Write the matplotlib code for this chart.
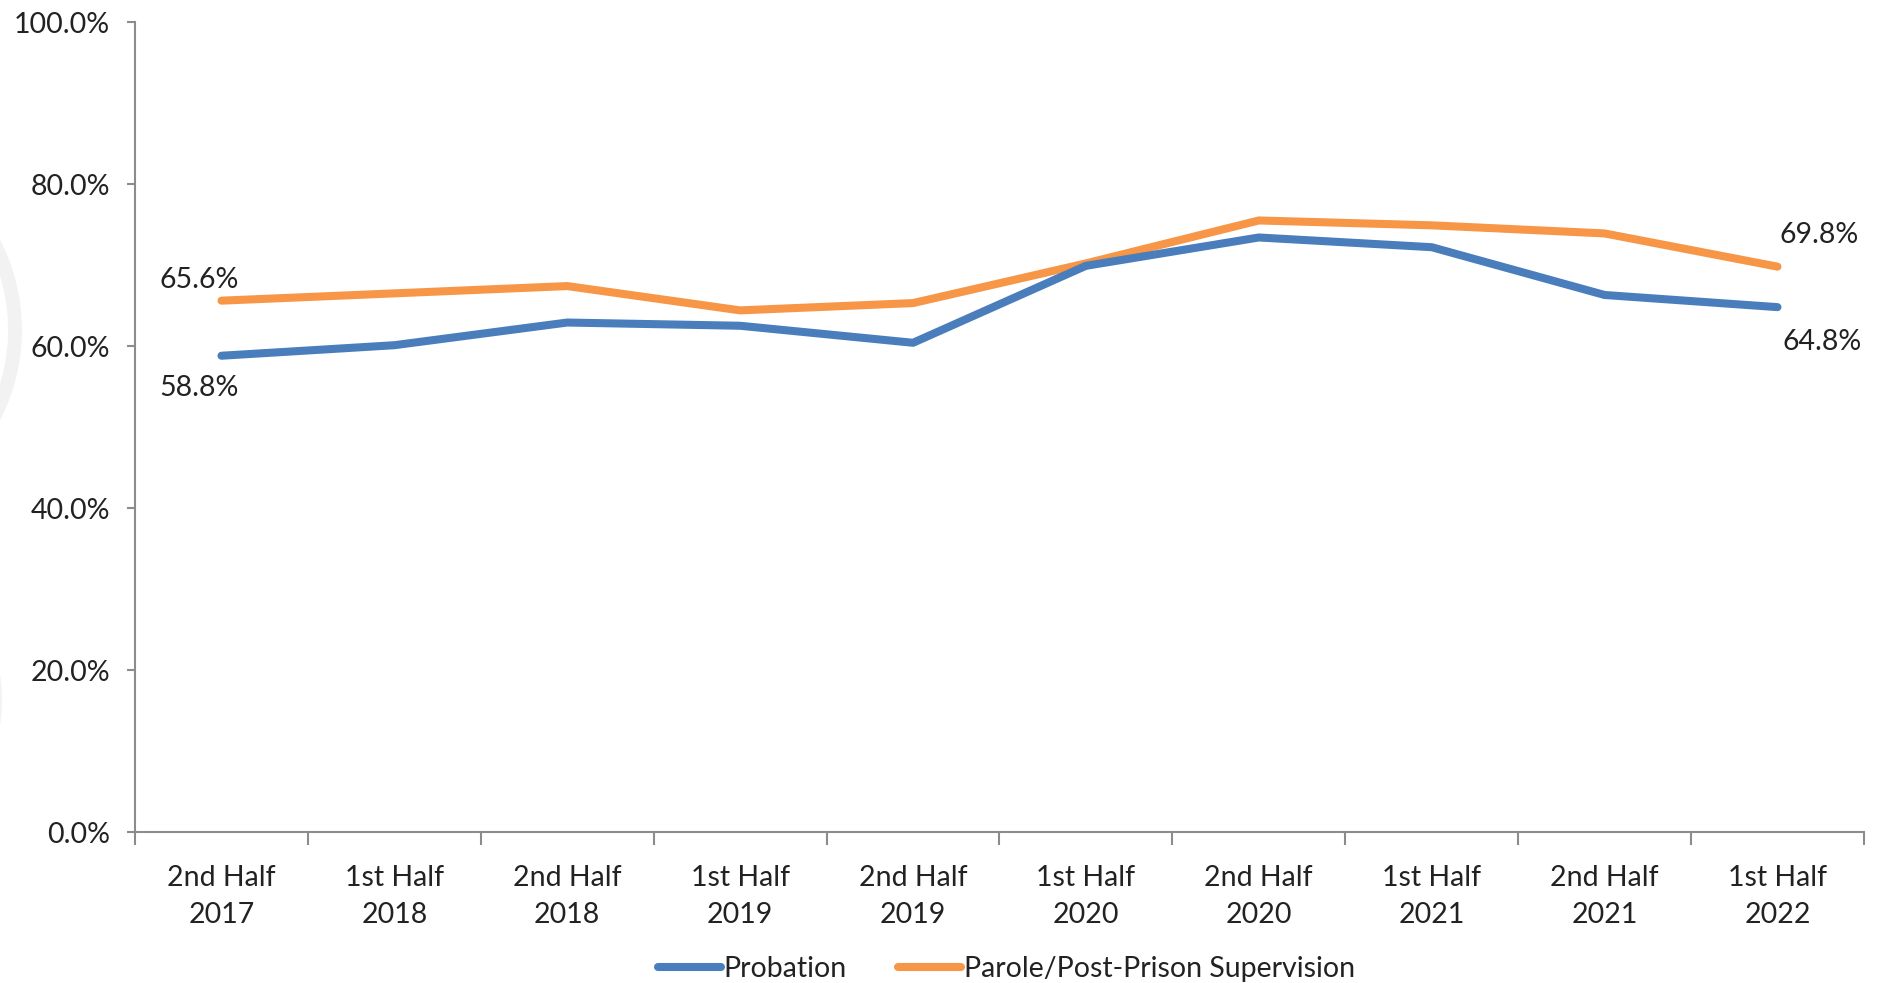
import matplotlib
matplotlib.use("Agg")
import matplotlib.pyplot as plt
from matplotlib.patches import Ellipse
from matplotlib.ticker import FuncFormatter, FixedLocator, NullFormatter

plt.rcParams['font.family'] = ['Lato', 'DejaVu Sans']

categories = ["2nd Half\n2017", "1st Half\n2018", "2nd Half\n2018", "1st Half\n2019",
              "2nd Half\n2019", "1st Half\n2020", "2nd Half\n2020", "1st Half\n2021",
              "2nd Half\n2021", "1st Half\n2022"]
probation = [58.8, 60.1, 62.9, 62.5, 60.4, 69.9, 73.4, 72.2, 66.3, 64.8]
parole = [65.6, 66.5, 67.4, 64.4, 65.3, 70.2, 75.5, 74.9, 73.9, 69.8]
series_names = ["Probation", "Parole/Post-Prison Supervision"]
y_ticks = [0, 20, 40, 60, 80, 100]

blue = "#4A7DBB"
orange = "#F79646"
axis_gray = "#8C8C8C"
text_col = "#222222"

W, H = 1878, 983
fig = plt.figure(figsize=(W / 100, H / 100), dpi=100)

# faint seal showing at the left margin
for cy, r in [(330, 190), (700, 170)]:
    ring = Ellipse((-175 / W, 1 - cy / H), 2 * r / W, 2 * r / H, transform=fig.transFigure,
                   fill=False, lw=10, ec="#F2F2F2", zorder=0)
    fig.add_artist(ring)

ax = fig.add_axes([0.0719, 0.1536, 0.9206, 0.824])
ax.set_facecolor('none')

x = list(range(len(categories)))
lw = 5.8
ax.plot(x, probation, color=blue, lw=lw, solid_capstyle='round', solid_joinstyle='round',
        label=series_names[0], zorder=3)
ax.plot(x, parole, color=orange, lw=lw, solid_capstyle='round', solid_joinstyle='round',
        label=series_names[1], zorder=2)

ax.set_xlim(-0.5, len(categories) - 0.5)
ax.set_ylim(0, 100)

# value labels on the first and last points
fs = 20.5
ax.annotate(f"{parole[0]:.1f}%", (x[0], parole[0]), xytext=(-16, 15), textcoords='offset points',
            ha='center', va='center', fontsize=fs, color=text_col)
ax.annotate(f"{probation[0]:.1f}%", (x[0], probation[0]), xytext=(-16, -23), textcoords='offset points',
            ha='center', va='center', fontsize=fs, color=text_col)
ax.annotate(f"{parole[-1]:.1f}%", (x[-1], parole[-1]), xytext=(30, 23), textcoords='offset points',
            ha='center', va='center', fontsize=fs, color=text_col)
ax.annotate(f"{probation[-1]:.1f}%", (x[-1], probation[-1]), xytext=(32, -25), textcoords='offset points',
            ha='center', va='center', fontsize=fs, color=text_col)

# axes styling
for side in ['top', 'right']:
    ax.spines[side].set_visible(False)
for side in ['left', 'bottom']:
    ax.spines[side].set_color(axis_gray)
    ax.spines[side].set_linewidth(1.5)

ax.set_yticks(y_ticks)
ax.yaxis.set_major_formatter(FuncFormatter(lambda v, p: f"{v:.1f}%"))
ax.tick_params(axis='y', direction='out', length=6, width=1.5, color=axis_gray,
               labelsize=fs, labelcolor=text_col, pad=12)

# category labels centred, tick marks on category boundaries
ax.xaxis.set_major_locator(FixedLocator([i - 0.5 for i in range(len(categories) + 1)]))
ax.xaxis.set_major_formatter(NullFormatter())
ax.xaxis.set_minor_locator(FixedLocator(x))
ax.set_xticklabels(categories, minor=True)
ax.tick_params(axis='x', which='major', direction='out', length=9, width=1.5, color=axis_gray)
ax.tick_params(axis='x', which='minor', length=0, labelsize=fs, labelcolor=text_col, pad=23.5)
for t in ax.get_xticklabels(minor=True):
    t.set_linespacing(1.55)

leg = fig.legend(loc='center', bbox_to_anchor=(0.536, 0.0145), ncol=2, frameon=False,
                 fontsize=fs, handlelength=2.2, handletextpad=0.1, columnspacing=1.8,
                 borderpad=0)
for line in leg.get_lines():
    line.set_linewidth(5.8)
for t in leg.get_texts():
    t.set_color(text_col)

fig.savefig("out.png", dpi=100, facecolor='white')
